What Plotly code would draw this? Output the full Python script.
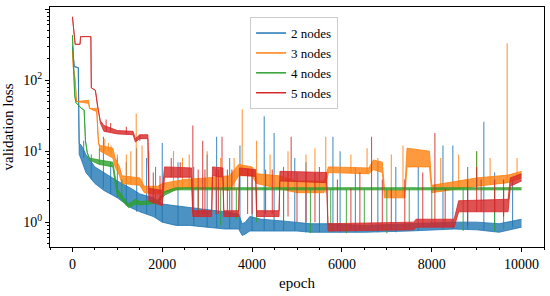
import plotly.graph_objects as go

# 2 nodes: noise band (lower / upper edge) and spikes
ep_2 = [0, 40, 130, 150, 200, 300, 500, 700, 1000, 1300, 1500, 1800, 2000, 2300, 2600, 3000,
        3400, 3700, 3780, 3850, 3950, 4200, 4600, 5000, 5300, 5700, 6500, 7500, 8500, 9000, 9500, 9999]
lo_2 = [300, 155, 150, 9, 7.5, 5, 3.5, 2.8, 2.2, 1.6, 1.4, 1.2, 1.0, 0.9, 0.9, 0.85,
        0.8, 0.8, 0.65, 0.68, 0.75, 0.75, 0.75, 0.75, 0.72, 0.72, 0.72, 0.75, 0.8, 0.78, 0.72, 0.85]
hi_2 = [300, 155, 150, 13, 12, 9, 6, 5, 3.8, 3.0, 2.5, 2.2, 1.8, 1.7, 1.6, 1.5,
        1.4, 1.3, 0.95, 1.0, 1.2, 1.1, 1.05, 1.0, 0.95, 0.95, 0.9, 0.95, 1.0, 1.0, 0.95, 1.1]
sp_ep_2 = [250, 420, 690, 850, 1000, 1200, 1430, 1650, 1850, 2000, 2350, 2700, 3000, 3210, 3500, 3730,
           4000, 4270, 4490, 4700, 4950, 5200, 5500, 5800, 5960, 6300, 6800, 7200, 7700, 8250, 8470,
           8800, 9160, 9400, 9800]
sp_lo_2 = [8, 4, 3, 2.5, 2.2, 1.7, 1.4, 1.3, 1.2, 1.0, 0.9, 0.9, 0.85, 0.85, 0.8, 0.8,
           0.75, 0.75, 0.75, 0.75, 0.75, 0.72, 0.72, 0.72, 0.72, 0.72, 0.72, 0.72, 0.75, 0.8, 0.8,
           0.8, 0.78, 0.75, 0.85]
sp_hi_2 = [14, 9, 16, 7, 8, 7, 11, 8, 6, 13, 7, 6, 9, 16, 8, 12,
           5, 31, 18, 6, 8, 7, 6, 16, 10, 6, 7, 6, 6, 12, 12,
           6, 26, 5, 4]

# 3 nodes
ep_3 = [0, 20, 60, 90, 360, 380, 540, 580, 620, 900, 950, 1050, 1100, 1500, 1600, 1900, 2000, 2500,
        3000, 3500, 3700, 4000, 4100, 4600, 5000, 5600, 5700, 6600, 6700, 6900, 6950, 7400, 7450,
        7950, 8000, 9000, 9700, 9999]
lo_3 = [260, 150, 100, 50, 47, 40, 36, 13, 10, 8, 6, 4.5, 3.5, 3.3, 2.6, 2.5, 2.6, 3.0,
        3.0, 2.8, 4.5, 4.5, 3.5, 3.0, 2.6, 2.6, 5.0, 4.8, 5.5, 5.0, 2.2, 2.2, 6,
        6, 2.6, 3.2, 3.6, 4.2]
hi_3 = [260, 150, 100, 50, 52, 40, 40, 13, 12, 11, 8, 6, 4.5, 4.2, 3.2, 3.2, 3.5, 4.0,
        4.2, 4.5, 6.5, 6, 4.8, 4.5, 3.8, 3.8, 6.0, 5.8, 7.5, 7, 2.8, 2.8, 11,
        10, 3.3, 4.2, 4.6, 5.2]
sp_ep_3 = [720, 800, 860, 1000, 1200, 1300, 1420, 1550, 1700, 2250, 2450, 2600, 3000, 3300, 3600,
           3780, 4100, 4400, 4800, 5200, 5400, 5640, 6200, 6560, 6800, 7100, 7360, 8200, 8600,
           9000, 9300, 9680, 9900]
sp_lo_3 = [10, 10, 9, 6, 3.5, 3.5, 3.4, 3.0, 2.5, 3.0, 3.0, 3.0, 3.0, 3.0, 2.8,
           4.5, 3.5, 3.2, 2.8, 2.6, 2.6, 2.6, 4.9, 4.8, 5.2, 2.2, 2.2, 2.8, 3.0,
           3.3, 3.4, 3.6, 4.3]
sp_hi_3 = [15, 13, 12, 9, 9, 10, 34, 12, 10, 10, 8, 9, 10, 8, 8,
           39, 14, 9, 10, 9, 11, 16, 9, 11, 8, 9, 12, 8, 9,
           10, 8, 330, 8]

# 4 nodes
ep_4 = [0, 50, 80, 150, 200, 260, 290, 330, 380, 600, 900, 950, 1000, 1250, 1400, 1500,
        1900, 2050, 2300, 9999]
lo_4 = [430, 60, 48, 43, 40, 38, 14, 9.5, 7.5, 6.5, 6, 3.5, 2.4, 1.6, 1.8, 1.75,
        1.85, 2.4, 2.85, 2.85]
hi_4 = [430, 60, 48, 43, 40, 38, 14, 9.5, 8, 7.5, 7, 4.5, 2.9, 1.8, 2.1, 1.95,
        2.05, 2.7, 3.05, 3.05]
sp_ep_4 = [2800, 3300, 3650, 4100, 4700, 5300, 5750, 6100, 6500, 7000, 7500, 8000, 8700,
           9000, 9400, 9600, 600, 1100]
sp_lo_4 = [1.2, 0.9, 1.1, 1.0, 0.9, 0.7, 0.75, 0.7, 0.8, 0.7, 0.8, 0.9, 0.75,
           2.9, 0.75, 0.8, 6.5, 2.3]
sp_hi_4 = [2.9, 2.9, 2.9, 2.9, 2.9, 2.9, 2.9, 2.9, 2.9, 2.9, 2.9, 2.9, 2.9,
           10, 2.9, 2.9, 11, 4]

# 5 nodes
ep_5 = [0, 60, 170, 180, 410, 420, 510, 560, 620, 700, 1000, 1350, 1400, 1500, 1680, 1700,
        2000, 2050, 2650, 2680, 3100, 3120, 3350, 3370, 3700, 3720, 4080, 4100, 4600, 4620,
        5660, 5690, 7600, 7650, 8500, 8600, 9700, 9750, 9999]
lo_5 = [780, 320, 320, 410, 410, 78, 72, 42, 25, 19, 17.5, 17, 13.5, 15, 15, 2.0,
        1.7, 4.3, 4.3, 1.2, 1.2, 4.5, 4.3, 1.2, 1.2, 4.6, 4.4, 1.2, 1.2, 3.8,
        3.6, 0.75, 0.78, 0.85, 0.85, 1.4, 1.4, 3.2, 3.8]
hi_5 = [780, 320, 320, 410, 410, 78, 72, 42, 27, 23, 19.5, 19, 15, 17, 17, 3.0,
        2.8, 6.0, 5.8, 1.45, 1.45, 6.0, 5.8, 1.45, 1.45, 5.8, 5.5, 1.45, 1.45, 5.2,
        5.0, 0.95, 1.0, 1.1, 1.1, 2.0, 2.1, 4.2, 4.8]
sp_ep_5 = [750, 850, 1200, 1500, 1800, 1950, 2200, 2400, 2680, 2800, 2900, 2950, 3200, 3250,
           3330, 3450, 3550, 3900, 4000, 4300, 4450, 4800, 4870, 5000, 5200, 5400, 5900, 6200,
           6400, 6660, 6900, 7100, 7400, 7800, 8070, 8300, 8800, 9000, 9100, 9400, 9600]
sp_lo_5 = [19, 19, 17.5, 14, 1.8, 1.8, 4.3, 4.3, 1.3, 1.3, 1.3, 1.3, 1.3, 1.3,
           4.5, 1.3, 1.3, 1.3, 1.3, 1.3, 1.3, 1.2, 4.0, 1.0, 1.0, 1.0, 0.8, 0.8,
           0.8, 0.85, 0.8, 0.8, 0.8, 0.9, 0.9, 0.9, 0.9, 1.4, 1.4, 1.4, 1.2]
sp_hi_5 = [28, 25, 22, 17, 5, 4.5, 8, 7, 23, 5.5, 14, 5.5, 5.5, 5.5,
           16, 5.5, 5.5, 5.5, 5.5, 5.5, 5.5, 5, 16, 5, 5, 5, 4, 3,
           5, 16, 4, 3, 4, 5, 18, 3, 4, 6, 4, 4, 4]

x_ticks = [0, 2000, 4000, 6000, 8000, 10000]

series = [
    ('2 nodes', (31, 119, 180), ep_2, lo_2, hi_2, sp_ep_2, sp_lo_2, sp_hi_2),
    ('3 nodes', (255, 127, 14), ep_3, lo_3, hi_3, sp_ep_3, sp_lo_3, sp_hi_3),
    ('4 nodes', (44, 160, 44), ep_4, lo_4, hi_4, sp_ep_4, sp_lo_4, sp_hi_4),
    ('5 nodes', (214, 39, 40), ep_5, lo_5, hi_5, sp_ep_5, sp_lo_5, sp_hi_5),
]

fig = go.Figure()
for name, rgb, ep, lo, hi, sp_ep, sp_lo, sp_hi in series:
    col = 'rgba(%d,%d,%d,0.8)' % rgb
    fig.add_trace(go.Scatter(x=ep, y=lo, mode='lines', line=dict(color=col, width=1),
                             showlegend=False, hoverinfo='skip'))
    fig.add_trace(go.Scatter(x=ep, y=hi, mode='lines', line=dict(color=col, width=1),
                             fill='tonexty', fillcolor=col, showlegend=False, hoverinfo='skip'))
    # spikes as vertical segments
    sx, sy = [], []
    for e, a, b in zip(sp_ep, sp_lo, sp_hi):
        sx += [e, e, None]
        sy += [a, b, None]
    fig.add_trace(go.Scatter(x=sx, y=sy, mode='lines', line=dict(color=col, width=1.1),
                             showlegend=False, hoverinfo='skip'))

# legend entries
for name, rgb, *_ in series:
    fig.add_trace(go.Scatter(x=[None], y=[None], mode='lines', name=name,
                             line=dict(color='rgb(%d,%d,%d)' % rgb, width=1.5)))

font = 'Liberation Serif, DejaVu Serif, serif'
fig.update_layout(
    width=550, height=296,
    margin=dict(l=50, r=6, t=7, b=49),
    paper_bgcolor='white', plot_bgcolor='white',
    font=dict(family=font, size=14, color='black'),
    legend=dict(x=0.405, y=0.958, xanchor='left', yanchor='top',
                bgcolor='white', bordercolor='#cccccc', borderwidth=1,
                font=dict(size=13), traceorder='normal', tracegroupgap=0),
)
fig.update_xaxes(
    range=[-500, 10500], tickvals=x_ticks, ticktext=[str(v) for v in x_ticks],
    showline=True, linecolor='black', linewidth=1, mirror=True, automargin=False,
    ticks='outside', ticklen=4, tickcolor='black', showgrid=False, zeroline=False,
    minor=dict(dtick=500, ticks='outside', ticklen=2, tickcolor='black', showgrid=False),
    title=dict(text='epoch', font=dict(size=15), standoff=6),
)
fig.update_yaxes(
    type='log', range=[-0.35, 3.03],
    tickvals=[1, 10, 100, 1000],
    ticktext=['10<sup>0</sup>', '10<sup>1</sup>', '10<sup>2</sup>', '10<sup>3</sup>'],
    showline=True, linecolor='black', linewidth=1, mirror=True, automargin=False,
    ticks='outside', ticklen=4, tickcolor='black', showgrid=False, zeroline=False,
    minor=dict(tickvals=[0.5, 0.6, 0.7, 0.8, 0.9, 2, 3, 4, 5, 6, 7, 8, 9,
                         20, 30, 40, 50, 60, 70, 80, 90, 200, 300, 400, 500, 600, 700, 800, 900],
               ticks='outside', ticklen=2, tickcolor='black', showgrid=False),
    title=dict(text='validation loss', font=dict(size=15), standoff=8),
)

# drop the page's default body margin so the figure sits at the window origin
fig.write_html('out.html', config={'displayModeBar': False},
               post_script="document.body.style.margin='0';")
